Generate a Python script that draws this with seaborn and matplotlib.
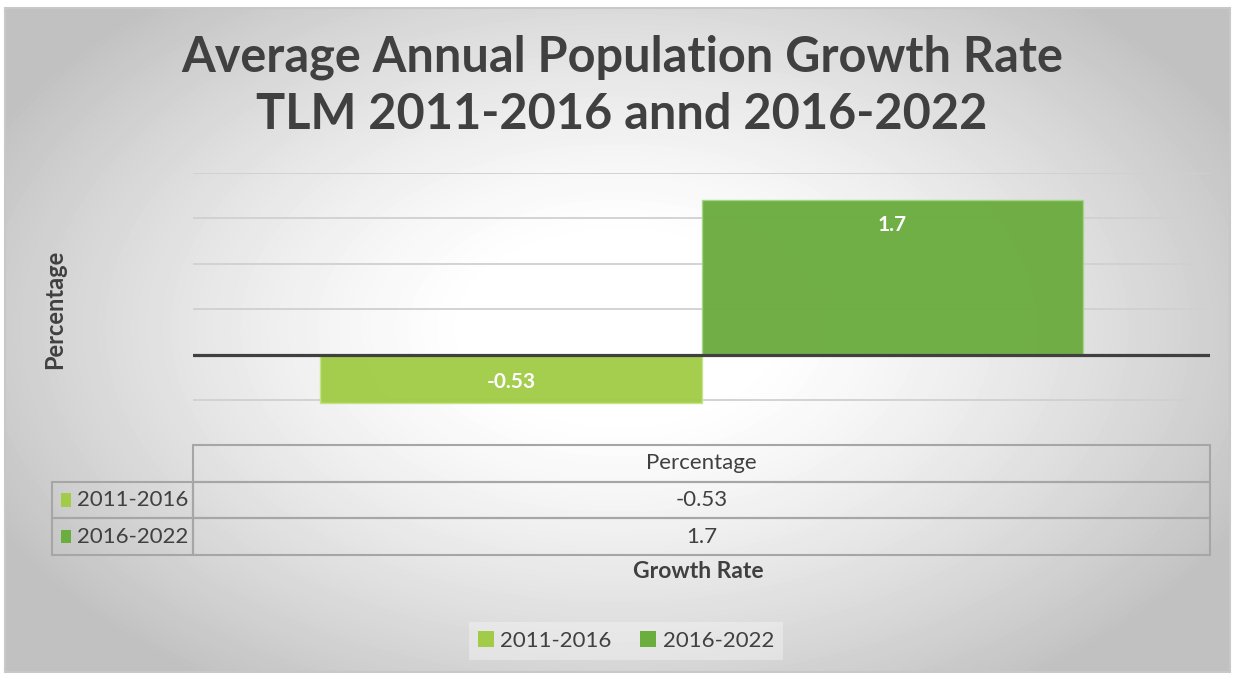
import numpy as np
import pandas as pd
import matplotlib
matplotlib.use('Agg')
import matplotlib.pyplot as plt
from matplotlib.table import Table
from matplotlib.patches import Rectangle
import seaborn as sns

# data
periods = ['2011-2016', '2016-2022']
growth_rates = [-0.53, 1.7]
category = 'Percentage'
bar_colors = ['#A2CC48', '#6CAD40']
edge_colors = ['#c5e38a', '#a6d48a']

title = 'Average Annual Population Growth Rate\nTLM 2011-2016 annd 2016-2022'

sns.set_theme(style='white')
plt.rcParams['font.family'] = ['Lato', 'DejaVu Sans']
text_color = '#404040'

W, H = 1234, 675
fig = plt.figure(figsize=(W / 100, H / 100), dpi=100)
fig.patch.set_facecolor('white')

# radial gradient background (white centre, grey edges)
bg = fig.add_axes([5 / W, 3 / H, 1225 / W, 664 / H], zorder=-10)
yy, xx = np.mgrid[0:664, 0:1225]
r = np.sqrt(((xx - 612) / 700) ** 2 + ((yy - 320) / 430) ** 2)
shade = 1 - 0.24 * np.clip((r - 0.2) / 0.8, 0, 1) ** 1.3
bg.imshow(shade, cmap='gray', vmin=0, vmax=1, aspect='auto', interpolation='bilinear')
bg.set_axis_off()
fig.patches.append(Rectangle((5 / W, 3 / H), 1225 / W, 664 / H, transform=fig.transFigure,
                             fill=False, edgecolor='#c8c8c8', linewidth=1.5))

# main plot area
ax = fig.add_axes([193 / W, 1 - 404.5 / H, 1017 / W, 231.5 / H])
ax.patch.set_alpha(0)

df = pd.DataFrame({'metric': [category] * len(periods), 'period': periods, 'value': growth_rates})
sns.barplot(data=df, x='metric', y='value', hue='period', palette=bar_colors, saturation=1,
            width=0.75, alpha=0.97, ax=ax, zorder=2, legend=True)

for c, col in zip(ax.containers, edge_colors):
    for bar in c:
        bar.set_edgecolor(col)
        bar.set_linewidth(1)
        v = bar.get_height()
        off = -18 if v > 0 else 15
        ax.annotate(f'{v:g}', (bar.get_x() + bar.get_width() / 2, v), xytext=(0, off),
                    textcoords='offset points', ha='center', va='center',
                    color='white', fontsize=15, fontweight='bold', zorder=5)

ax.set_ylim(-0.55, 2.0)
ax.set_yticks([-0.5, 0.5, 1.0, 1.5, 2.0])
ax.yaxis.grid(True, color='#d0d0d0', linewidth=1.3, zorder=0)
ax.set_axisbelow(True)
ax.axhline(0, color='#404040', linewidth=2.3, zorder=4)
ax.tick_params(left=False, bottom=False, labelleft=False, labelbottom=False)
ax.set_xlabel('')
ax.set_ylabel('')
sns.despine(ax=ax, left=True, bottom=True)

handles, labels = ax.get_legend_handles_labels()
ax.get_legend().remove()

fig.text(55 / W, 1 - 309 / H, 'Percentage', rotation=90, ha='center', va='center',
         fontsize=17, fontweight='bold', color=text_color)
fig.text(622 / W, 1 - 86 / H, title, ha='center', va='center', fontsize=35,
         fontweight='bold', color=text_color, linespacing=1.32)

# data table under the plot
tax = fig.add_axes([52 / W, 1 - 555 / H, 1158 / W, 110 / H])
tax.set_axis_off()
tb = Table(tax, bbox=[0, 0, 1, 1])
lab_w = 141 / 1158
val_w = 1 - lab_w
row_h = 1 / 3
tb.add_cell(0, 1, val_w, row_h, text=category, loc='center', facecolor='none')
for i, (p, v) in enumerate(zip(periods, growth_rates), start=1):
    tb.add_cell(i, 0, lab_w, row_h, text='    ' + p, loc='left', facecolor='none')
    tb.add_cell(i, 1, val_w, row_h, text=f'{v:g}', loc='center', facecolor='none')
tb.auto_set_font_size(False)
for key, c in tb.get_celld().items():
    c.set_edgecolor('#a6a6a6')
    c.set_linewidth(1.5)
    c.get_text().set_color(text_color)
    c.get_text().set_fontsize(16)
    c.PAD = 0.015
tax.add_table(tb)
for i, col in enumerate(bar_colors, start=1):
    tax.add_patch(Rectangle((0.008, 1 - (i + 0.5) * row_h - 0.06), 0.0085, 0.12,
                            transform=tax.transAxes, facecolor=col, edgecolor='none'))

fig.text(698 / W, 1 - 572 / H, 'Growth Rate', ha='center', va='center', fontsize=16.5,
         fontweight='bold', color=text_color)

leg = fig.legend(handles, labels, loc='center', bbox_to_anchor=(626 / W, 1 - 641 / H), ncol=2,
                 frameon=True, facecolor='#f8f8f8', edgecolor='none', fancybox=False,
                 handlelength=0.7, handleheight=0.7, handletextpad=0.3, columnspacing=1.3,
                 fontsize=16, labelcolor=text_color, framealpha=0.4)
for h, col in zip(leg.legend_handles, bar_colors):
    h.set_facecolor(col)
    h.set_edgecolor('none')
    h.set_alpha(1)

fig.savefig('out.png', dpi=100)
